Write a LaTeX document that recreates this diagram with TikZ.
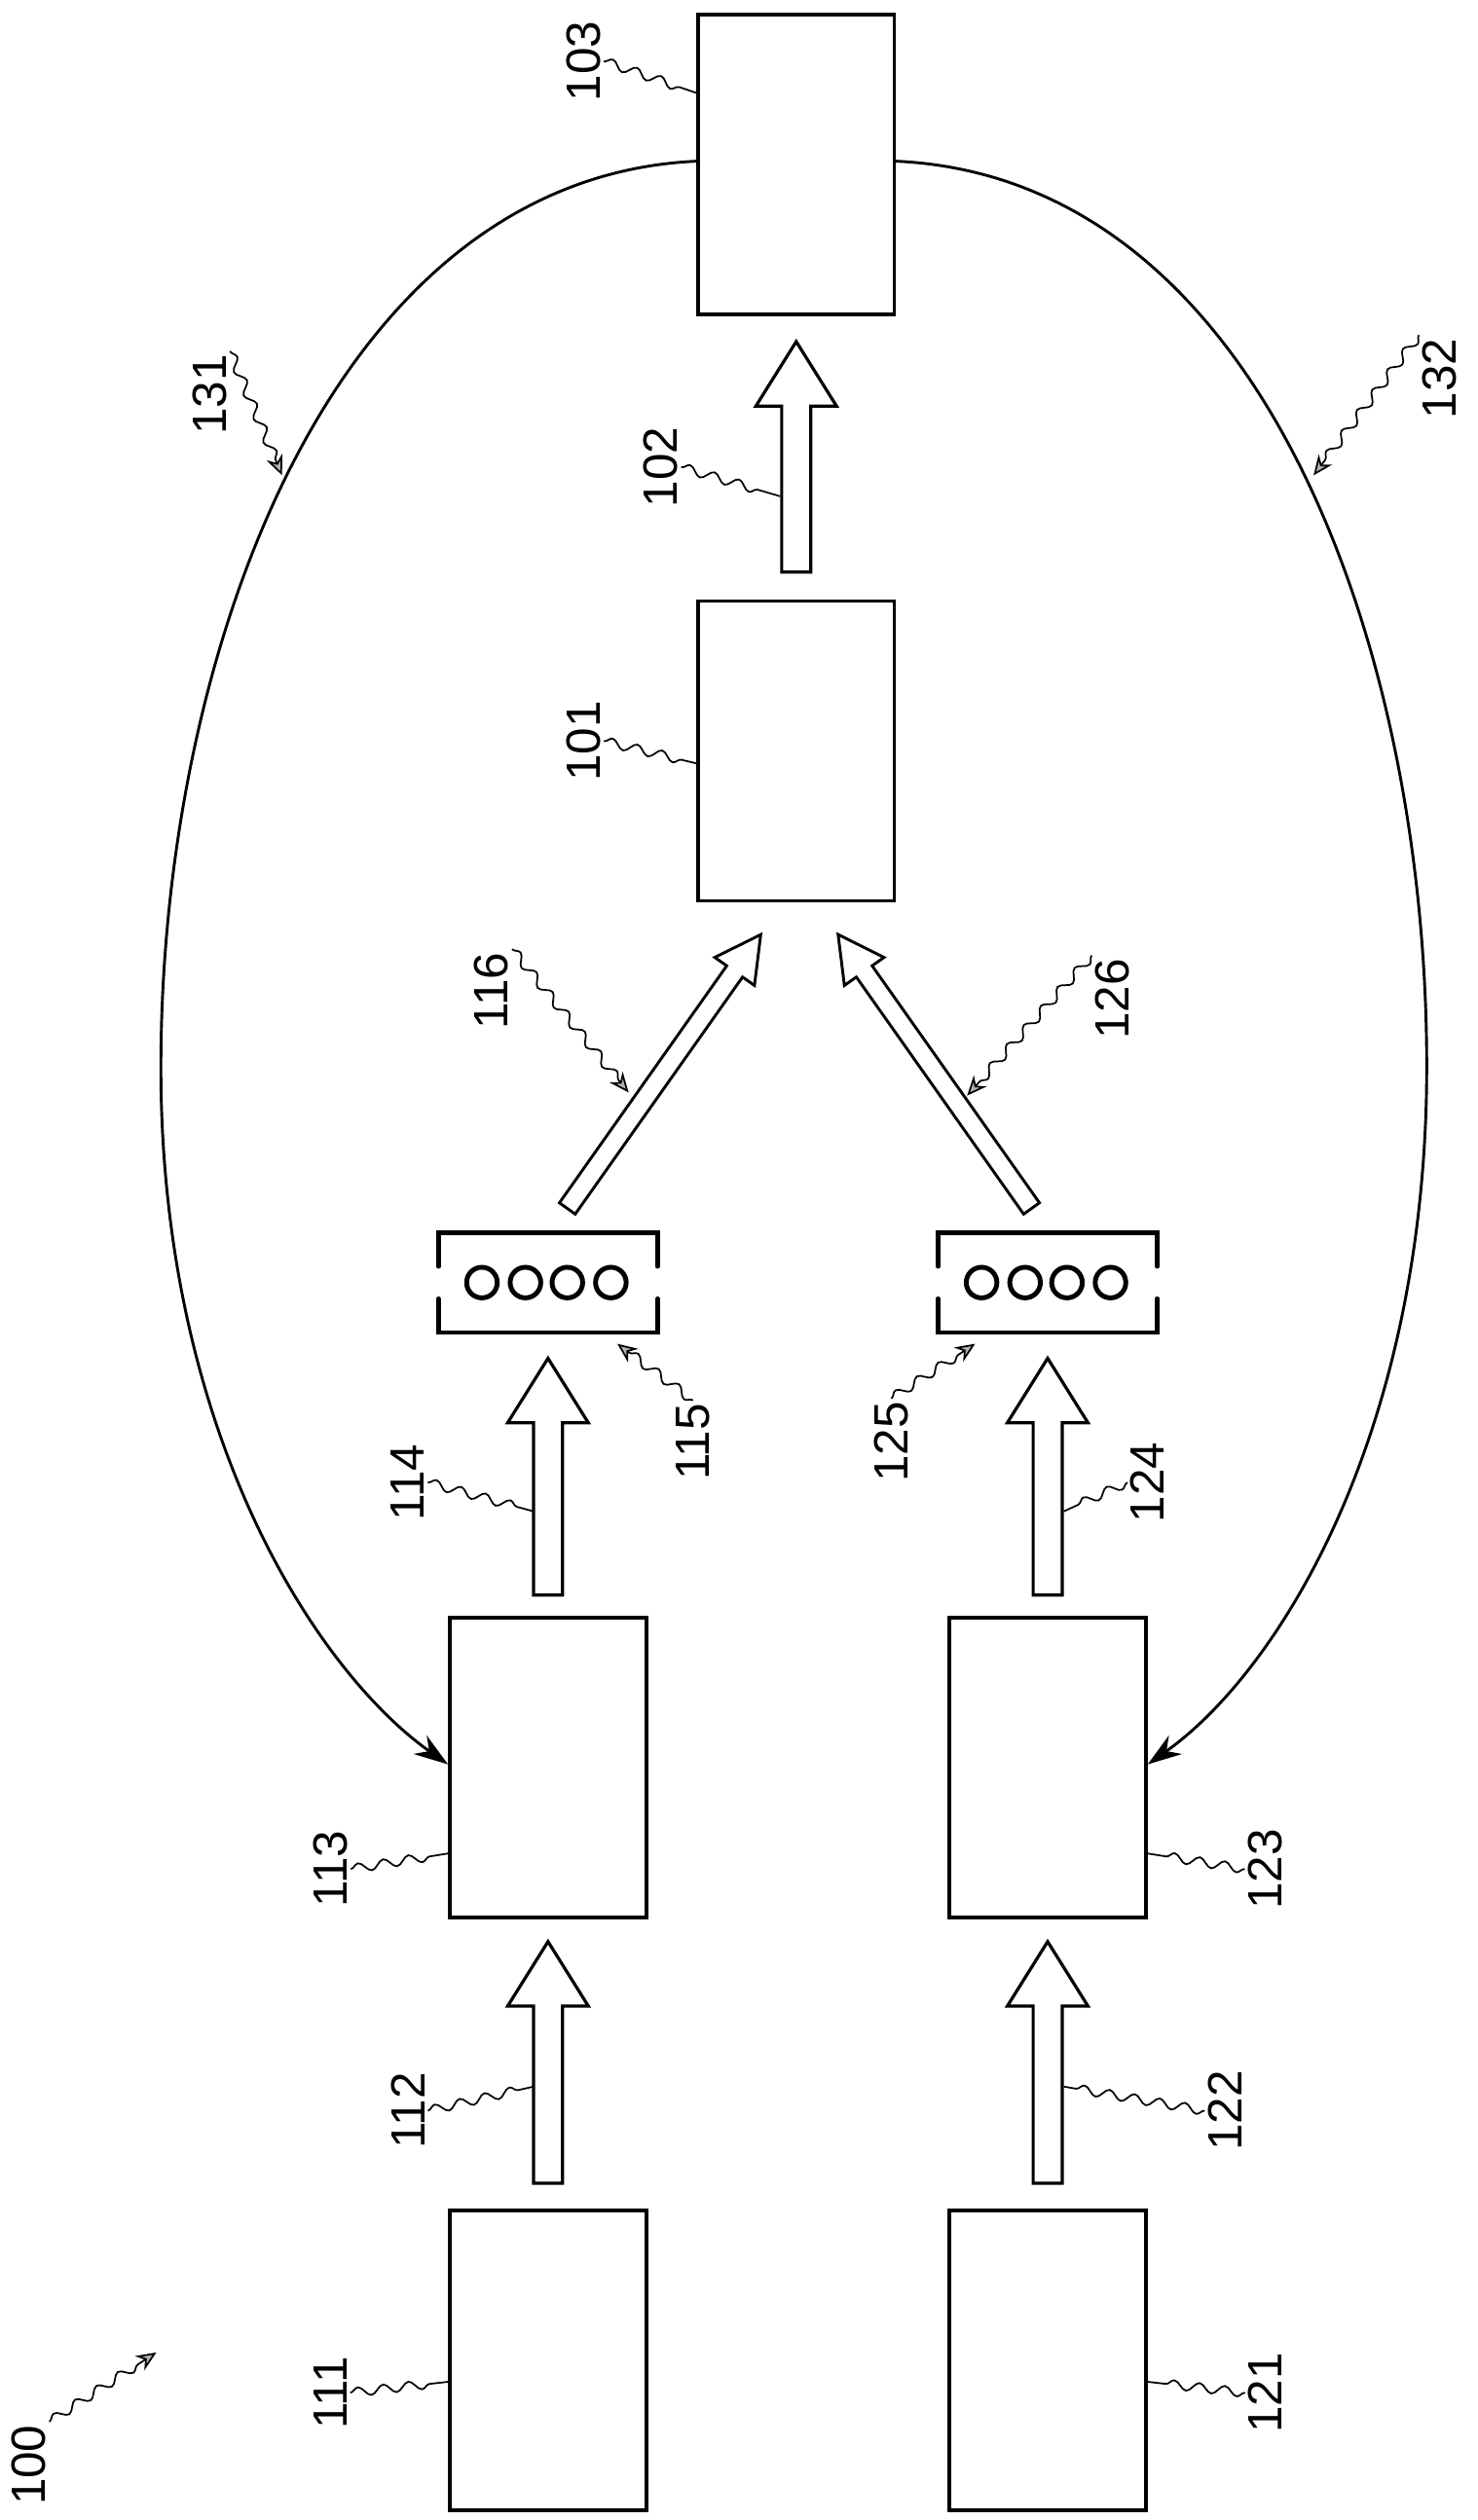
\documentclass[tikz,border=0pt]{standalone}
\usepackage{fontspec}
\setmainfont{Liberation Sans}
\usetikzlibrary{decorations.pathmorphing,arrows.meta}
\newcommand\varr[3]{\draw[fat] (#1-9,#2)--(#1-9,#3+40)--(#1-25,#3+40)--(#1,#3)--(#1+25,#3+40)--(#1+9,#3+40)--(#1+9,#2)--cycle;}
\newcommand\buf[3]{%
 \node[inner sep=0,minimum width=136*0.02cm,minimum height=63*0.02cm] (#3) at (#1,#2) {};
 \draw[line width=1.6pt,line cap=round] (#1-68,#2-10)--(#1-68,#2-31)--(#1+68,#2-31)--(#1+68,#2-10);
 \draw[line width=1.6pt,line cap=round] (#1-68,#2+10)--(#1-68,#2+31)--(#1+68,#2+31)--(#1+68,#2+10);
 \foreach \dx in {-41,-14,12,39} \draw[line width=1.7pt] (#1+\dx,#2) circle[radius=9.5*0.02cm];}
\begin{document}
\begin{tikzpicture}[x=0.02cm,y=-0.02cm,
 box/.style={draw,line width=1.2pt,minimum width=122*0.02cm,minimum height=186*0.02cm,inner sep=0},
 fat/.style={line width=1.1pt,fill=white},
 lbl/.style={rotate=90,font=\fontsize{17}{20}\selectfont,inner sep=1pt},
 lead/.style={line width=0.6pt,decorate,decoration={snake,amplitude=1.6,segment length=9,post length=4}},
 leadarr/.style={lead,-{Stealth[length=7,width=6,fill=gray!60]}},
 curve/.style={line width=1pt}]
\useasboundingbox (0,0) rectangle (917,1564);
\node[box] (b103) at (494,102) {};
\node[box] (b101) at (494,466) {};
\node[box] (b113) at (340,1097) {};
\node[box] (b123) at (650,1097) {};
\node[box] (b111) at (340,1465) {};
\node[box] (b121) at (650,1465) {};
\varr{494}{355}{212}
\varr{340}{1355}{1205}
\varr{650}{1355}{1205}
\varr{340}{990}{843}
\varr{650}{990}{843}
\buf{340}{796}{b115}
\buf{650}{796}{b125}
\draw[line width=1pt,fill=white] (356.9,753.5)--(460.7,606.4)--(468.1,611.6)--(472,580)--(443.5,594.2)--(450.9,599.4)--(347.1,746.5)--cycle;
\draw[line width=1pt,fill=white] (644.9,746.5)--(541.1,599.4)--(548.5,594.2)--(520,580)--(523.9,611.6)--(531.3,606.4)--(635.1,753.5)--cycle;
\coordinate (c131) at (433,100);
\coordinate (c132) at (555,100);
\draw[curve,-{Stealth[length=12,width=8]}] (c131) .. controls (200,110) and (95,420) .. (100,680) .. controls (105,900) and (200,1040) .. (b113.west|-0,1095);
\draw[curve,-{Stealth[length=12,width=8]}] (c132) .. controls (790,110) and (890,420) .. (885,680) .. controls (880,900) and (790,1040) .. (b123.east|-0,1095);
% labels
\node[lbl] (l103) at (362,38) {103};
\node[lbl] (l102) at (410,290) {102};
\node[lbl] (l101) at (362,460) {101};
\node[lbl] (l131) at (130,245) {131};
\node[lbl] (l132) at (893,235) {132};
\node[lbl] (l116) at (305,615) {116};
\node[lbl] (l126) at (690,620) {126};
\node[lbl] (l115) at (430,895) {115};
\node[lbl] (l125) at (553,895) {125};
\node[lbl] (l114) at (253,920) {114};
\node[lbl] (l124) at (712,920) {124};
\node[lbl] (l113) at (205,1160) {113};
\node[lbl] (l123) at (785,1160) {123};
\node[lbl] (l112) at (253,1310) {112};
\node[lbl] (l122) at (760,1310) {122};
\node[lbl] (l111) at (205,1485) {111};
\node[lbl] (l121) at (785,1485) {121};
\node[lbl] (l100) at (18,1530) {100};
\draw[lead] (l103.south) -- (433,58);
\draw[lead] (l102.south) -- (484,308);
\draw[lead] (l101.south) -- (433,474);
\draw[lead] (l114.south) -- (331,938);
\draw[lead] (l124.north) -- (660,938);
\draw[lead] (l113.south) -- (280,1150);
\draw[lead] (l123.north) -- (710,1150);
\draw[lead] (l112.south) -- (331,1295);
\draw[lead] (l122.north) -- (660,1295);
\draw[lead] (l111.south) -- (280,1478);
\draw[lead] (l121.north) -- (710,1478);
\draw[leadarr] (l131.south east) -- (175,295);
\draw[leadarr] (l132.north east) -- (815,295);
\draw[leadarr] (l116.south east) -- (390,678);
\draw[leadarr] (l126.north east) -- (600,680);
\draw[leadarr] (l115.east) -- (383,834);
\draw[leadarr] (l125.east) -- (605,834);
\draw[leadarr] (l100.south east) -- (97,1460);
\end{tikzpicture}
\end{document}
